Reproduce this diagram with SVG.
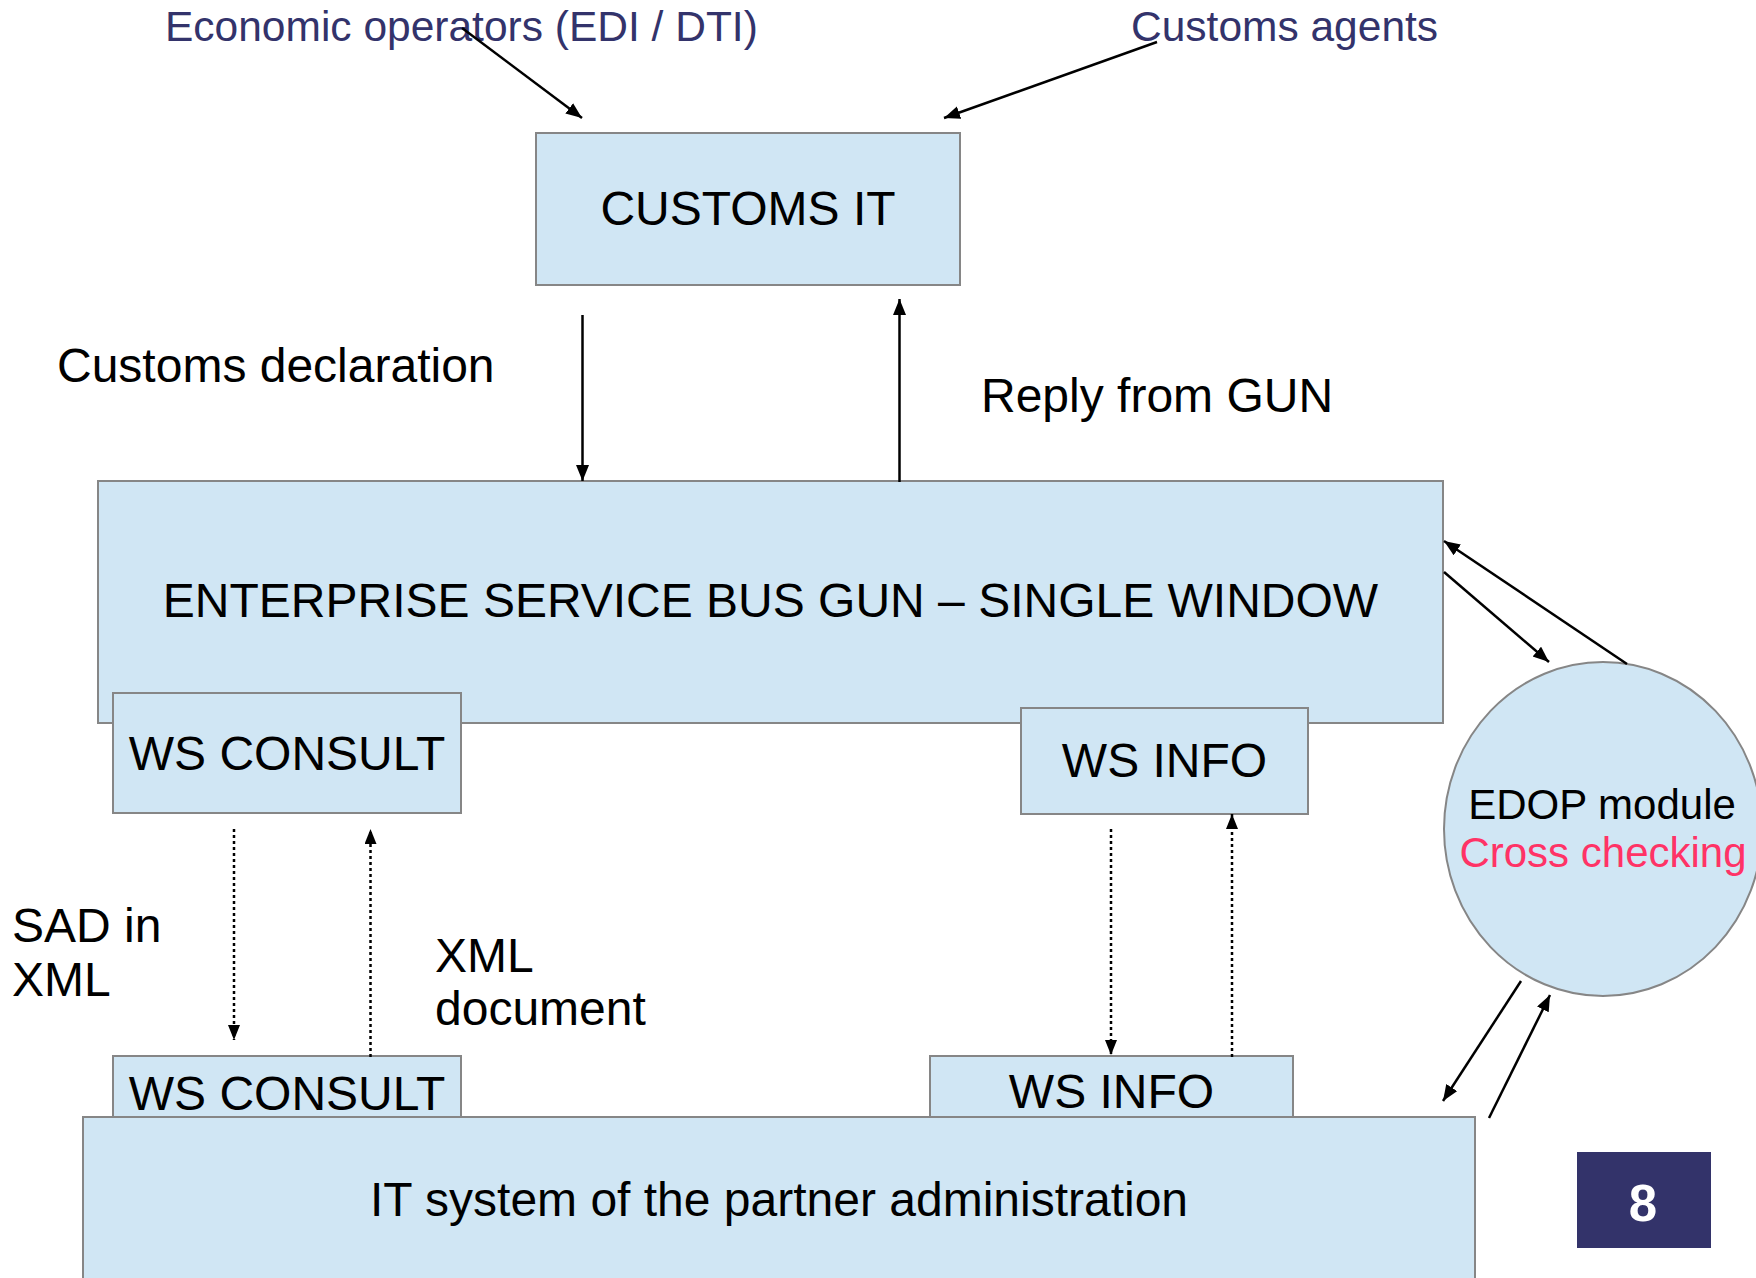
<svg xmlns="http://www.w3.org/2000/svg" width="1756" height="1278" viewBox="0 0 1756 1278">
<style>
.box{fill:#d0e6f4;stroke:#868686;stroke-width:2}
.t{font-family:"Liberation Sans",Arial,sans-serif;font-size:48px;fill:#000}
.m{text-anchor:middle}
.navy{font-family:"Liberation Sans",Arial,sans-serif;font-size:42.5px;fill:#33336b}
.ln{stroke:#000;stroke-width:2.5;fill:none}
.dot{stroke:#000;stroke-width:2.5;fill:none;stroke-dasharray:3 3}
</style>
<defs>
<marker id="ah" markerUnits="userSpaceOnUse" markerWidth="17" markerHeight="14" refX="16" refY="6.5" orient="auto">
<path d="M0,0 L16,6.5 L0,13 z" fill="#000"/>
</marker>
<marker id="ahd" markerUnits="userSpaceOnUse" markerWidth="16" markerHeight="13" refX="15" refY="6" orient="auto">
<path d="M0,0 L15,6 L0,12 z" fill="#000"/>
</marker>
</defs>
<rect width="1756" height="1278" fill="#fff"/>

<g id="label-economic-operators"><text class="navy" x="165" y="41">Economic operators (EDI / DTI)</text></g>
<g id="label-customs-agents"><text class="navy" x="1131" y="41">Customs agents</text></g>

<g id="customs-it"><rect class="box" x="536" y="133" width="424" height="152"/><text class="t m" x="748" y="225">CUSTOMS IT</text></g>

<g id="label-customs-declaration"><text class="t" x="57" y="382">Customs declaration</text></g>
<g id="label-reply"><text class="t" x="981" y="412">Reply from GUN</text></g>

<g id="esb"><rect class="box" x="98" y="481" width="1345" height="242"/><text class="t m" x="770.5" y="617">ENTERPRISE SERVICE BUS GUN – SINGLE WINDOW</text></g>
<g id="ws-consult-top"><rect class="box" x="113" y="693" width="348" height="120"/><text class="t m" x="287" y="770">WS CONSULT</text></g>
<g id="ws-info-top"><rect class="box" x="1021" y="708" width="287" height="106"/><text class="t m" x="1164.5" y="777">WS INFO</text></g>

<g id="edop"><ellipse class="box" cx="1603" cy="829" rx="159" ry="167"/><text class="m" x="1602" y="819" font-family="Liberation Sans, Arial, sans-serif" font-size="42" fill="#000">EDOP module</text><text class="m" x="1603" y="867" font-family="Liberation Sans, Arial, sans-serif" font-size="42" fill="#ff3366">Cross checking</text></g>

<g id="label-sad"><text class="t" x="12" y="942">SAD in</text><text class="t" x="12" y="996">XML</text></g>
<g id="label-xml-doc"><text class="t" x="435" y="972">XML</text><text class="t" x="435" y="1025">document</text></g>

<g id="ws-consult-bottom"><rect class="box" x="113" y="1056" width="348" height="80"/><text class="t m" x="287" y="1110">WS CONSULT</text></g>
<g id="ws-info-bottom"><rect class="box" x="930" y="1056" width="363" height="80"/><text class="t m" x="1111.5" y="1108">WS INFO</text></g>
<g id="it-partner"><rect class="box" x="83" y="1117" width="1392" height="180"/><text class="t m" x="779" y="1216">IT system of the partner administration</text></g>

<g id="page-number"><rect x="1577" y="1152" width="134" height="96" fill="#33336a"/><text x="1643" y="1221" text-anchor="middle" font-family="Liberation Sans, Arial, sans-serif" font-size="51" font-weight="bold" fill="#fff">8</text></g>

<g id="connectors">
<line class="ln" x1="462" y1="28" x2="582" y2="118" marker-end="url(#ah)"/>
<line class="ln" x1="1157" y1="42" x2="944" y2="118" marker-end="url(#ah)"/>
<line class="ln" x1="582.5" y1="315" x2="582.5" y2="481" marker-end="url(#ah)"/>
<line class="ln" x1="899.5" y1="482" x2="899.5" y2="299" marker-end="url(#ah)"/>
<line class="ln" x1="1627" y1="664" x2="1444" y2="541" marker-end="url(#ah)"/>
<line class="ln" x1="1444" y1="572" x2="1549" y2="662" marker-end="url(#ah)"/>
<line class="ln" x1="1521" y1="981" x2="1443" y2="1101" marker-end="url(#ah)"/>
<line class="ln" x1="1489" y1="1118" x2="1550" y2="995" marker-end="url(#ah)"/>
<line class="dot" x1="234" y1="829" x2="234" y2="1040" marker-end="url(#ahd)"/>
<line class="dot" x1="370.5" y1="1057" x2="370.5" y2="829" marker-end="url(#ahd)"/>
<line class="dot" x1="1111" y1="829" x2="1111" y2="1055" marker-end="url(#ahd)"/>
<line class="dot" x1="1232" y1="1057" x2="1232" y2="814" marker-end="url(#ahd)"/>
</g>
</svg>
